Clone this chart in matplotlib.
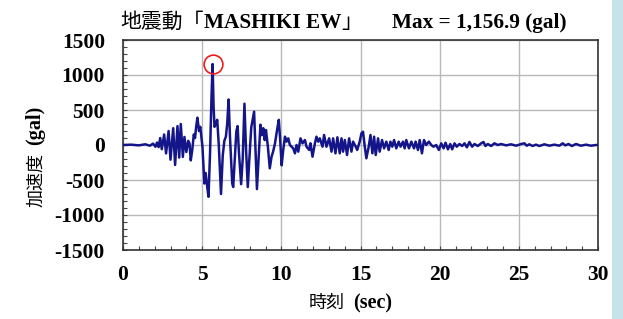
import matplotlib
matplotlib.use("Agg")
import matplotlib.pyplot as plt
from matplotlib.patches import Rectangle
from matplotlib.ticker import MultipleLocator

# waveform (peaks / troughs)
time_sec = [
    0.0, 0.5, 1.0, 1.4, 1.7, 1.9, 2.05, 2.15, 2.25, 2.35,
    2.45, 2.6, 2.72, 2.88, 3.0, 3.17, 3.29, 3.44, 3.55, 3.65,
    3.78, 3.88, 4.0, 4.12, 4.2, 4.28, 4.38, 4.47, 4.55, 4.62, 4.7, 4.8,
    4.88, 5.02, 5.14, 5.22, 5.32, 5.4, 5.5, 5.59, 5.66, 5.72,
    5.78, 5.86, 5.95, 6.05, 6.19, 6.3, 6.4, 6.5, 6.58, 6.67,
    6.76, 6.9, 6.96, 7.06, 7.16, 7.24, 7.32, 7.46, 7.56, 7.67,
    7.76, 7.88, 7.98, 8.1, 8.28, 8.36, 8.46, 8.56, 8.68, 8.76,
    8.86, 8.95, 9.03, 9.15, 9.27, 9.38, 9.48, 9.6, 9.73, 9.84,
    9.92, 10.02, 10.12, 10.23, 10.33, 10.44, 10.54, 10.65, 10.75, 10.86,
    10.96, 11.07, 11.21, 11.34, 11.49, 11.59, 11.76, 11.84, 11.97, 12.12,
    12.22, 12.33, 12.43, 12.6, 12.7, 12.85, 13.02, 13.17, 13.27, 13.42,
    13.54, 13.69, 13.8, 13.9, 14.01, 14.15, 14.28, 14.43, 14.53, 14.7,
    14.79, 14.95, 15.06, 15.16, 15.27, 15.37, 15.52, 15.63, 15.75, 15.86,
    15.96, 16.11, 16.21, 16.36, 16.49, 16.63, 16.78, 16.89, 17.01, 17.12,
    17.26, 17.41, 17.53, 17.68, 17.79, 17.89, 18.06, 18.21, 18.38, 18.48,
    18.63, 18.74, 18.88, 19.01, 19.15, 19.32, 19.47, 19.61, 19.78, 19.95,
    20.1, 20.25, 20.37, 20.52, 20.67, 20.79, 20.94, 21.08, 21.25, 21.42,
    21.57, 21.72, 21.88, 22.05, 22.2, 22.41, 22.62, 22.77, 22.89, 23.04,
    23.25, 23.46, 23.67, 23.88, 24.2, 24.51, 24.83, 25.14, 25.35, 25.5,
    25.66, 25.87, 26.08, 26.3, 26.61, 26.93, 27.24, 27.56, 27.77, 27.93,
    28.14, 28.35, 28.61, 28.92, 29.24, 29.55, 29.87, 30.0,
]
accel_gal = [
    0, 5, -5, 10, -10, 20, -25, 35, -30, 100,
    -60, 150, -120, 200, -210, 240, -285, 270, -180, 300,
    -170, 115, -100, 60, 20, -220, -60, 150, 100, 260, 390, 200,
    260, -30, -550, -400, -600, -740, -100, 690, 1157, 550,
    260, 300, 360, 0, -700, -150, 60, 120, 300, 650,
    100, -550, -600, -200, 200, 270, -100, -560, -200, 590,
    0, -600, -200, 250, 476, 0, -630, -200, 290, 140,
    240, 70, 214, -24, -333, -170, -95, 24, 214, 360,
    100, -290, -70, 119, 48, 95, 0, -24, -48, -119,
    0, -95, 95, 24, 71, -24, -71, 24, -167, 24,
    119, 48, 95, -24, 143, -24, 95, -95, 95, -119,
    110, -119, 95, -95, 71, -143, 95, -95, 48, -24,
    -71, 48, 167, 190, -24, -190, -24, 143, -119, 119,
    -143, 95, -95, 71, -48, 48, -71, 48, -24, 71,
    -48, 48, -24, 48, -48, 71, -48, 48, -48, 48,
    -71, 71, -119, 71, 0, 48, 0, -24, 0, -71,
    24, -48, 33, -62, 14, -62, 24, -24, 14, -14,
    24, -33, 43, -24, 14, -14, 24, 43, -14, 14,
    -14, 24, 0, 14, -5, 10, -10, 14, 24, -10,
    10, -14, 5, -14, 10, -10, 5, -10, 24, -5,
    14, -14, 14, -10, 5, -10, 0, 0,
]
peak_time = 5.66
peak_accel = 1156.9
x_ticks = [0, 5, 10, 15, 20, 25, 30]
y_ticks = [-1500, -1000, -500, 0, 500, 1000, 1500]

LATIN = "Liberation Serif"
CJK = "Noto Sans CJK JP"

fig = plt.figure(figsize=(6.23, 3.19), dpi=100)
fig.patches.append(Rectangle((612 / 623, 0), 11 / 623, 1, transform=fig.transFigure,
                             facecolor="#c6e3ea", edgecolor="none"))
ax = fig.add_axes([123 / 623, 1 - 250 / 319, 475 / 623, 210 / 319])

ax.plot(time_sec, accel_gal, color="#15158a", lw=1.8, zorder=3)
ax.plot([peak_time], [peak_accel], "o", ms=13.5, mfc="none", mec="#ee1c1c", mew=1.2, zorder=4)

ax.set_xlim(0, 30)
ax.set_ylim(-1500, 1500)
ax.set_xticks(x_ticks)
ax.set_yticks(y_ticks)
ax.xaxis.set_minor_locator(MultipleLocator(1))
ax.yaxis.set_minor_locator(MultipleLocator(100))
ax.set_xticklabels([str(v) for v in x_ticks], fontfamily=LATIN, fontweight="bold", fontsize=15.5)
ax.set_yticklabels([str(v) for v in y_ticks], fontfamily=LATIN, fontweight="bold", fontsize=15.5)
ax.tick_params(which="both", direction="in", length=3, width=0.8, color="#444444")
ax.tick_params(axis="y", pad=13)
ax.tick_params(axis="x", pad=11)
ax.grid(True, which="major", color="#b8b8b8", lw=1.0)
ax.set_axisbelow(True)
for sp in ax.spines.values():
    sp.set_color("#333333")
    sp.set_linewidth(1.2)

# title, regular CJK + bold serif
t1 = fig.text(120 / 623, 1 - 28 / 319, "地震動「", fontfamily=CJK, fontsize=15, va="baseline")
t2 = ax.annotate("MASHIKI EW", xy=(1, 1 - 28 / 319), xycoords=(t1, "figure fraction"),
                 fontfamily=LATIN, fontweight="bold", fontsize=15.3, va="baseline")
ax.annotate("」", xy=(1, 1 - 28 / 319), xycoords=(t2, "figure fraction"),
            fontfamily=CJK, fontsize=15, va="baseline")
fig.text(392 / 623, 1 - 28 / 319, "Max = 1,156.9 (gal)", fontfamily=LATIN,
         fontweight="bold", fontsize=15.3, va="baseline")

# x label
x1 = fig.text(345 / 623, 1 - 308 / 319, "時刻", fontfamily=CJK, fontsize=13,
              va="baseline", ha="right")
ax.annotate("(sec)", xy=(1, 1 - 308 / 319), xycoords=(x1, "figure fraction"),
            xytext=(6, 0), textcoords="offset points",
            fontfamily=LATIN, fontweight="bold", fontsize=14.5, va="baseline")

# y label
y1 = fig.text(45 / 623, 1 - 207 / 319, "加速度", fontfamily=CJK, fontsize=13,
              rotation=90, ha="right", va="bottom")
ax.annotate("(gal)", xy=(1, 1), xycoords=y1, xytext=(0, 6), textcoords="offset points",
            fontfamily=LATIN, fontweight="bold", fontsize=14.5, rotation=90,
            ha="right", va="bottom")

fig.savefig("out.png", dpi=100)
